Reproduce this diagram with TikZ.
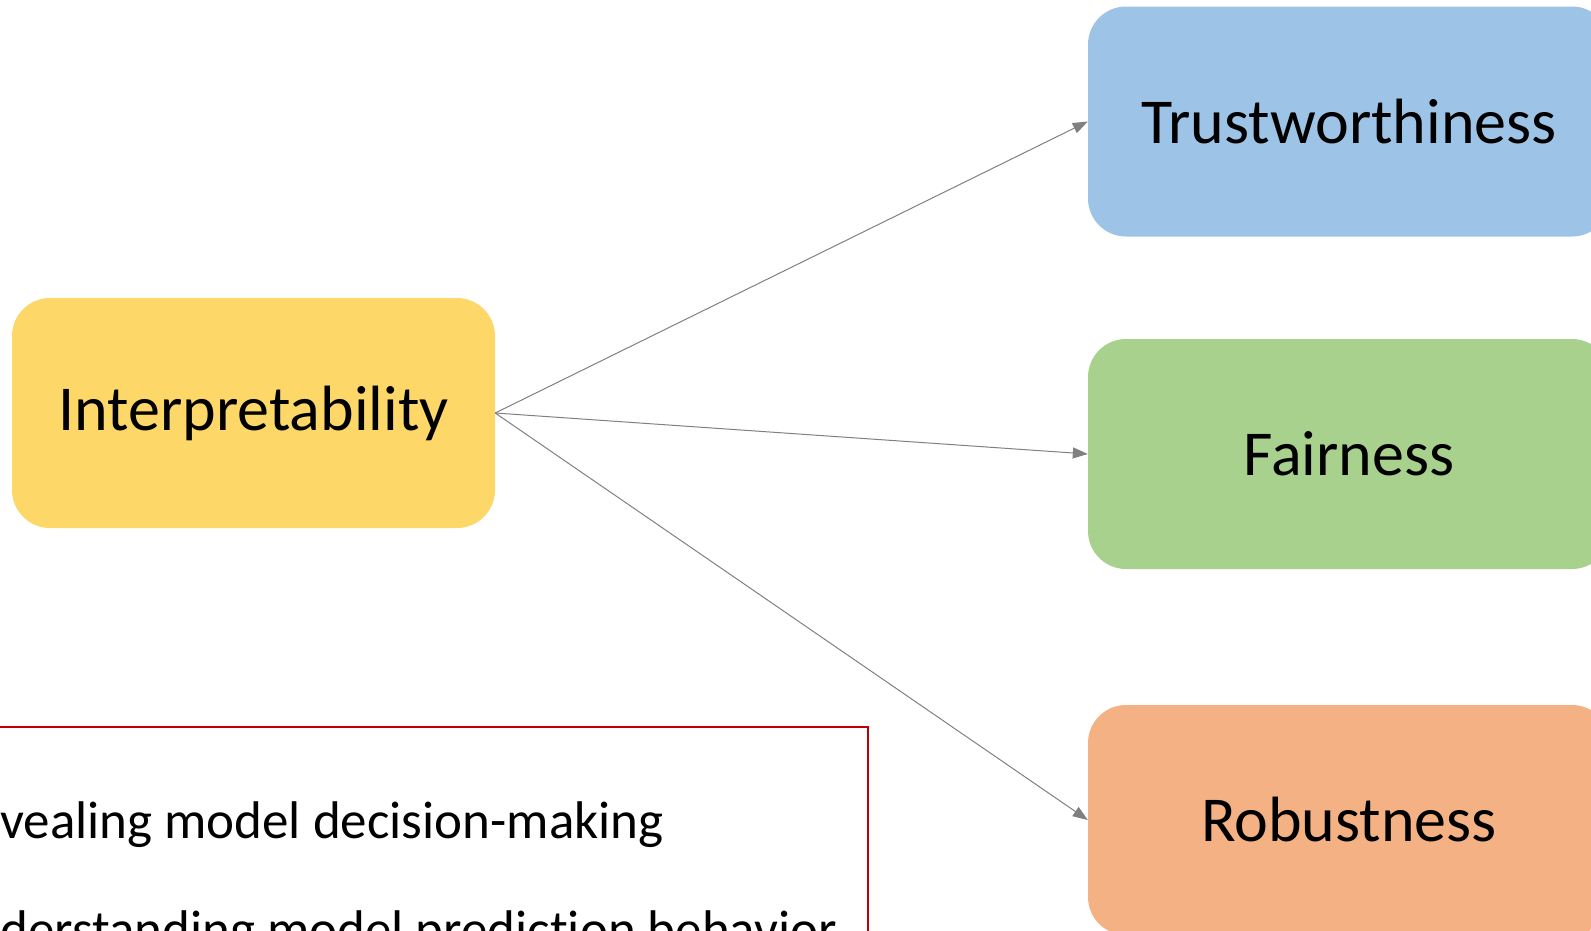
\documentclass[tikz,border=0pt]{standalone}
\usepackage{fontspec}
\setmainfont{Carlito}[Ligatures=NoCommon]
\usepackage{tikz}
\usetikzlibrary{arrows.meta,positioning}
\definecolor{interpFill}{HTML}{FDD767}
\definecolor{trustFill}{HTML}{9DC3E6}
\definecolor{fairFill}{HTML}{A9D18E}
\definecolor{robustFill}{HTML}{F4B183}
\definecolor{noteRed}{HTML}{C00000}
\definecolor{linkGray}{HTML}{808080}
\tikzset{
    propBox/.style={
        rectangle,
        rounded corners=38pt,
        minimum width=483pt,
        minimum height=230pt,
        font=\fontsize{64}{76}\selectfont,
        align=center,
        inner sep=0pt
    },
    % one colour per property
    interp/.style={propBox, fill=interpFill},
    trust/.style={propBox, fill=trustFill, minimum width=522pt},
    fair/.style={propBox, fill=fairFill, minimum width=522pt},
    robust/.style={propBox, fill=robustFill, minimum width=522pt},
    noteText/.style={font=\fontsize{53}{64}\selectfont, inner sep=0pt, anchor=base west},
    linkArrow/.style={-{Triangle[length=15pt,width=11pt]}, line width=1pt, draw=linkGray}
}
\begin{document}
\begin{tikzpicture}[x=1pt, y=-1pt]
    \clip (0,0) rectangle (1591,930);
    \node[interp] (interp) at (253.5,413) {Interpretability};
    \node[trust] (trust) at (1349,121.5) {Trustworthiness};
    \node[fair] (fair) at (1349,454) {Fairness};
    \node[robust] (robust) at (1349,820) {Robustness};

    \draw[linkArrow] (interp.east) -- (trust.west);
    \draw[linkArrow] (interp.east) -- (fair.west);
    \draw[linkArrow] (interp.east) -- (robust.west);

    % note box at the lower left
    \draw[noteRed, line width=2pt] (-60,727) rectangle (868,1000);
    \node[noteText] (reveal) at (0,838) {vealing model decision-making};
    \node[noteText] (understand) at (0,947) {derstanding model prediction behavior};
\end{tikzpicture}
\end{document}
